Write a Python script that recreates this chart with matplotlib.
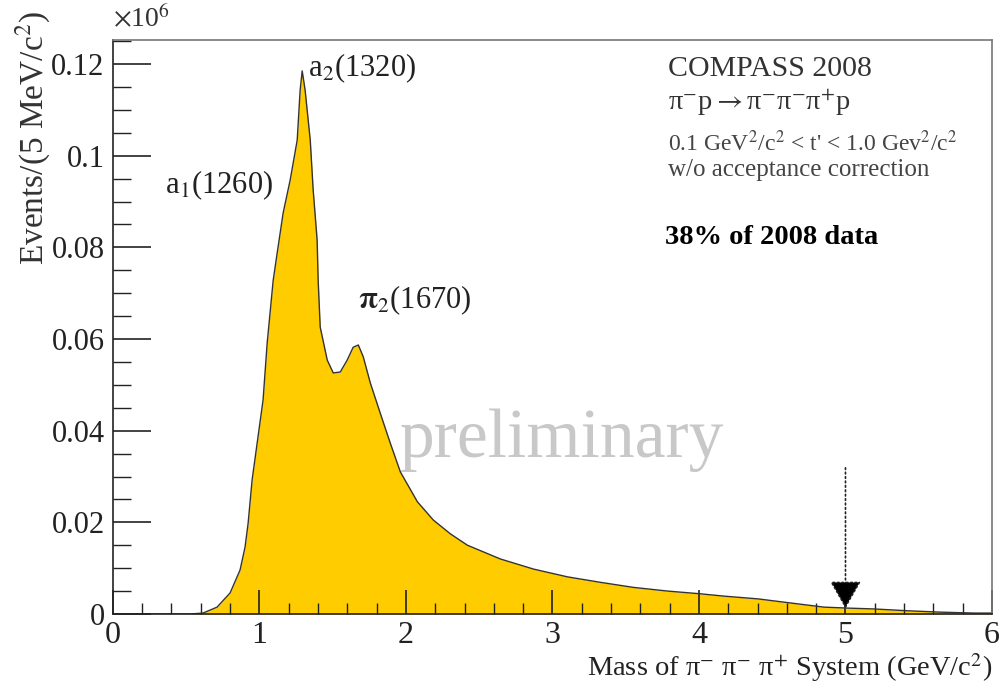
import matplotlib
matplotlib.use("Agg")
import matplotlib.pyplot as plt

plt.rcParams['font.family'] = ['Liberation Serif', 'DejaVu Serif']
plt.rcParams['mathtext.fontset'] = 'stix'

# 3pi invariant mass spectrum (events in units of 1e6 per 5 MeV)
mass = [0.0, 0.45, 0.526, 0.615, 0.711, 0.800, 0.868, 0.902, 0.923, 0.950,
        1.025, 1.053, 1.094, 1.121, 1.162, 1.210, 1.258, 1.278, 1.292, 1.312,
        1.347, 1.367, 1.394, 1.401, 1.415, 1.463, 1.504, 1.552, 1.599, 1.640,
        1.675, 1.709, 1.757, 1.825, 1.893, 1.962, 2.078, 2.187, 2.303, 2.420,
        2.645, 2.871, 3.103, 3.329, 3.554, 3.787, 4.012, 4.170, 4.402, 4.627,
        4.853, 5.003, 5.195, 5.427, 5.653, 5.878, 6.0]
events = [0.0, 0.0, 0.0, 0.0002, 0.0015, 0.0046, 0.0096, 0.0146, 0.0198, 0.0292,
          0.0467, 0.0591, 0.0728, 0.0787, 0.0875, 0.0947, 0.1034, 0.1143, 0.1185, 0.1143,
          0.1034, 0.0925, 0.0816, 0.0728, 0.0626, 0.0554, 0.0526, 0.0528, 0.0554, 0.0582,
          0.0587, 0.0561, 0.0504, 0.0438, 0.0373, 0.0310, 0.0245, 0.0205, 0.0175, 0.0150,
          0.0120, 0.0098, 0.0081, 0.0069, 0.0058, 0.0050, 0.0044, 0.0039, 0.0033, 0.0024,
          0.0015, 0.0013, 0.0011, 0.0007, 0.0004, 0.0002, 0.0002]

peaks = ['a$_2$(1320)', 'a$_1$(1260)', r'$\mathbf{\pi}_2$(1670)']
peak_pos = [(1.333, 0.119), (0.355, 0.0936), (1.675, 0.0685)]

cut_mass = 5.0

fig = plt.figure(figsize=(9.99, 6.93), dpi=100)
ax = fig.add_axes([0.113, 0.114, 0.880, 0.828])

ax.fill_between(mass, events, color='#ffcc00', linewidth=0)
ax.plot(mass, events, color='#333333', lw=1.0)

ax.set_xlim(0, 6)
ax.set_ylim(0, 0.1252)
ax.set_xticks([0, 1, 2, 3, 4, 5, 6])
ax.set_xticks([i * 0.2 for i in range(31)], minor=True)
ax.set_yticks([0, 0.02, 0.04, 0.06, 0.08, 0.1, 0.12])
ax.set_yticklabels(['0', '0.02', '0.04', '0.06', '0.08', '0.1', '0.12'])
ax.set_yticks([i * 0.005 for i in range(26)], minor=True)
ax.tick_params(axis='x', which='major', direction='in', length=17, width=1.2,
               labelsize=23, pad=5, colors='#222222')
ax.tick_params(axis='x', which='minor', direction='in', length=8, width=1.0, colors='#222222')
ax.tick_params(axis='y', which='major', direction='in', length=27, width=1.2,
               labelsize=22, pad=6, colors='#222222')
ax.tick_params(axis='y', which='minor', direction='in', length=13, width=1.0, colors='#222222')
for s in ax.spines.values():
    s.set_color('#777777')
    s.set_linewidth(1.2)
ax.spines['bottom'].set_color('#222222')
ax.spines['left'].set_color('#222222')

ax.text(0.0, 1.012, r'$\times$10$^{6}$', transform=ax.transAxes, fontsize=20,
        color='#333333', ha='left', va='bottom')

ax.text(-0.090, 1.052, 'Events/(5 MeV/c$^{2}$)', transform=ax.transAxes, rotation=90,
        fontsize=24, color='#333333', ha='center', va='top')
ax.text(1.0, -0.094, r'Mass of π$^{-}$ π$^{-}$ π$^{+}$ System (GeV/c$^{2}$)',
        transform=ax.transAxes, fontsize=20.5, color='#222222', ha='right', va='center')

for lab, (px, py) in zip(peaks, peak_pos):
    ax.text(px, py, lab, fontsize=22, color='#222222', ha='left', va='center')

ax.text(3.79, 0.119, 'COMPASS 2008', fontsize=21.5, color='#333333', va='center')
ax.text(3.79, 0.1117, r'π$^{-}$p$\rightarrow$π$^{-}$π$^{-}$π$^{+}$p', fontsize=20.5,
        color='#333333', va='center')
ax.text(3.79, 0.1027, "0.1 GeV$^{2}$/c$^{2}$ < t' < 1.0 Gev$^{2}$/c$^{2}$", fontsize=17,
        color='#444444', va='center')
ax.text(3.79, 0.0968, 'w/o acceptance correction', fontsize=18, color='#444444', va='center')
ax.text(3.77, 0.0822, '38% of 2008 data', fontsize=20.5, fontweight='bold', color='black',
        va='center')

ax.text(1.96, 0.038, 'preliminary', fontsize=50, color='#c8c8c8', va='center', zorder=0)

ax.annotate('', xy=(cut_mass, 0.0006), xytext=(cut_mass, 0.0325),
            arrowprops=dict(arrowstyle='-|>,head_length=0.7,head_width=0.4', linestyle=':',
                            facecolor='black', edgecolor='#222222', lw=1.2,
                            mutation_scale=25))

fig.savefig('out.png', dpi=100)
